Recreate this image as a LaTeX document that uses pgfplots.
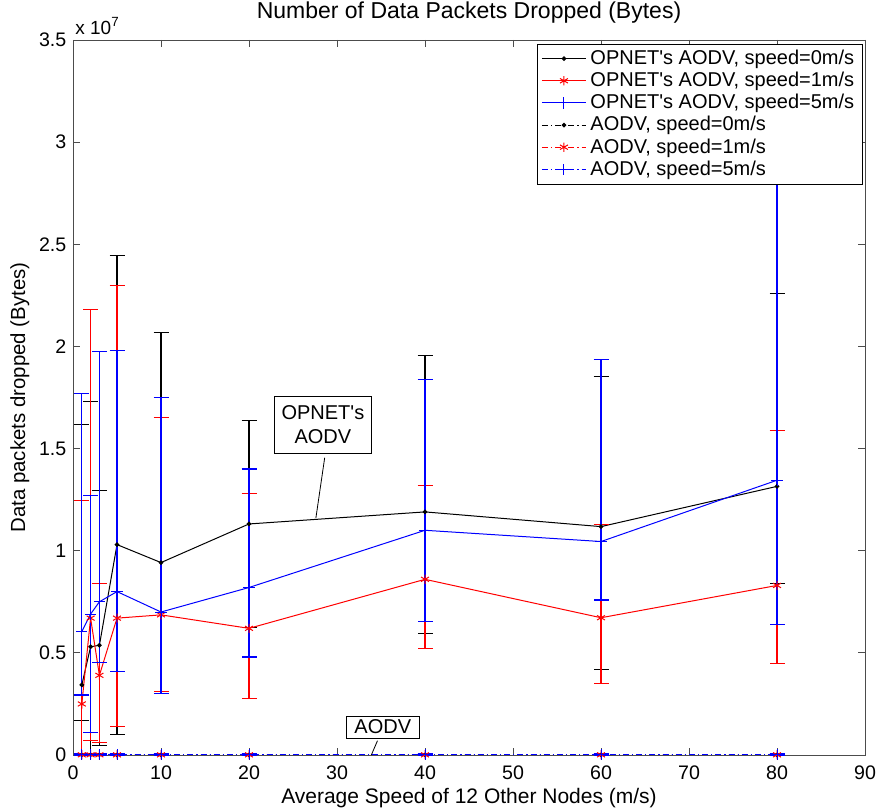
\documentclass[border=0pt]{standalone}
\usepackage{fontspec}
\setmainfont{Liberation Sans}
\usepackage{pgfplots}
\pgfplotsset{compat=1.18}

\definecolor{mred}{rgb}{1,0,0}
\definecolor{mblue}{rgb}{0,0,1}
\newcommand{\q}{\textquotesingle}

\pgfplotsset{
  eb/.style={
    error bars/y dir=both,
    error bars/y explicit,
    error bars/error bar style={draw=#1, color=#1, line width=0.55pt, solid},
    error bars/error mark options={draw=#1, color=#1, rotate=90, mark size=3.75pt, line width=0.55pt, solid},
  },
}

\begin{document}
\fontsize{9.5}{11.4}\selectfont
\begin{tikzpicture}
\begin{axis}[
  name=ax,
  scale only axis,
  width=396pt, height=357.5pt,
  xmin=0, xmax=90, ymin=0, ymax=3.5,
  xtick={0,10,20,30,40,50,60,70,80,90},
  ytick={0,0.5,1,1.5,2,2.5,3,3.5},
  yticklabels={0,0.5,1,1.5,2,2.5,3,3.5},
  tick align=inside, tick pos=both,
  major tick length=3.5pt,
  axis line style={black!70},
  every tick/.style={black!70},
  clip=false,
  /pgf/number format/assume math mode=true,
  ticklabel style={font=\fontsize{9.8}{11}\selectfont},
  xticklabel style={yshift=-2pt},
  every axis title shift=0pt,
  title={Number of Data Packets Dropped (Bytes)},
  title style={at={(axis description cs:0.5,1.038)}, anchor=center,
    font=\fontsize{11.5}{13}\selectfont},
  xlabel={Average Speed of 12 Other Nodes (m/s)},
  xlabel style={at={(axis description cs:0.5,-0.060)}, anchor=center,
    font=\fontsize{10.5}{12}\selectfont},
  ylabel={Data packets dropped (Bytes)},
  ylabel style={at={(axis description cs:-0.067,0.5)}, anchor=center,
    font=\fontsize{10.2}{12}\selectfont},
  legend style={at={(rel axis cs:0.997,0.995)}, anchor=north east,
    draw=black, fill=white, font=\fontsize{10}{11.5}\selectfont,
    row sep=-1.6pt, inner xsep=2pt, inner ysep=1pt},
  legend cell align=left,
  legend image code/.code={\draw[mark repeat=2,mark phase=2]
    plot coordinates {(0pt,0pt) (11pt,0pt) (22pt,0pt)};},
]
% OPNET's AODV, speed=0
\addplot[black, line width=0.5pt, mark=*, mark size=0.9pt, eb=black] coordinates {
  (1,0.343) += (0,1.277) -= (0,0.175)
  (2,0.530) += (0,1.200) -= (0,0.530)
  (3,0.537) += (0,0.758) -= (0,0.491)
  (5,1.030) += (0,1.415) -= (0,0.930)
  (10,0.942) += (0,1.128) -= (0,0.642)
  (20,1.131) += (0,0.505) -= (0,0.505)
  (40,1.190) += (0,0.765) -= (0,0.595)
  (60,1.118) += (0,0.735) -= (0,0.698)
  (80,1.315) += (0,0.945) -= (0,0.475)
};
\addlegendentry{OPNET\q s AODV, speed=0m/s}
% OPNET's AODV, speed=1
\addplot[mred, line width=0.5pt, mark=asterisk, mark size=2.3pt, eb=mred] coordinates {
  (1,0.250) += (0,0.995) -= (0,0.250)
  (2,0.670) += (0,1.510) -= (0,0.597)
  (3,0.390) += (0,0.450) -= (0,0.330)
  (5,0.670) += (0,1.627) -= (0,0.531)
  (10,0.686) += (0,0.964) -= (0,0.376)
  (20,0.620) += (0,0.658) -= (0,0.344)
  (40,0.860) += (0,0.460) -= (0,0.340)
  (60,0.672) += (0,0.458) -= (0,0.322)
  (80,0.830) += (0,0.760) -= (0,0.380)
};
\addlegendentry{OPNET\q s AODV, speed=1m/s}
% OPNET's AODV, speed=5
\addplot[mblue, line width=0.5pt, mark=+, mark size=2.8pt, eb=mblue] coordinates {
  (1,0.604) += (0,1.166) -= (0,0.310)
  (2,0.690) += (0,0.580) -= (0,0.580)
  (3,0.750) += (0,1.225) -= (0,0.296)
  (5,0.800) += (0,1.180) -= (0,0.390)
  (10,0.700) += (0,1.050) -= (0,0.400)
  (20,0.820) += (0,0.580) -= (0,0.340)
  (40,1.100) += (0,0.740) -= (0,0.445)
  (60,1.045) += (0,0.889) -= (0,0.286)
  (80,1.345) += (0,1.555) -= (0,0.705)
};
\addlegendentry{OPNET\q s AODV, speed=5m/s}
% AODV, speed=0
\addplot[black, line width=0.5pt, dash pattern=on 3pt off 1.5pt on 0.6pt off 1.5pt,
  mark=*, mark size=0.9pt, mark options={solid}, eb=black] coordinates {
  (1,0.001) +- (0,0.003) (2,0.001) +- (0,0.003) (3,0.001) +- (0,0.003)
  (5,0.001) +- (0,0.003) (10,0.001) +- (0,0.003) (20,0.001) +- (0,0.003)
  (40,0.001) +- (0,0.003) (60,0.001) +- (0,0.003) (80,0.001) +- (0,0.003)
};
\addlegendentry{AODV, speed=0m/s}
% AODV, speed=1
\addplot[mred, line width=0.5pt, dash pattern=on 3pt off 1.5pt on 0.6pt off 1.5pt,
  mark=asterisk, mark size=2.3pt, mark options={solid}, eb=mred] coordinates {
  (1,0.001) +- (0,0.004) (2,0.001) +- (0,0.004) (3,0.001) +- (0,0.004)
  (5,0.001) +- (0,0.004) (10,0.001) +- (0,0.004) (20,0.001) +- (0,0.004)
  (40,0.001) +- (0,0.004) (60,0.001) +- (0,0.004) (80,0.001) +- (0,0.004)
};
\addlegendentry{AODV, speed=1m/s}
% AODV, speed=5
\addplot[mblue, line width=0.5pt, dash pattern=on 3pt off 1.5pt on 0.6pt off 1.5pt,
  mark=+, mark size=2.8pt, mark options={solid}, eb=mblue] coordinates {
  (1,0.001) +- (0,0.004) (2,0.001) +- (0,0.004) (3,0.001) +- (0,0.004)
  (5,0.001) +- (0,0.004) (10,0.001) +- (0,0.004) (20,0.001) +- (0,0.004)
  (40,0.001) +- (0,0.004) (60,0.001) +- (0,0.004) (80,0.001) +- (0,0.004)
};
\addlegendentry{AODV, speed=5m/s}

% annotations
\draw[black, line width=0.4pt] (axis cs:28.6,1.455) -- (axis cs:27.6,1.16);
\node[draw=black, fill=white, align=center, inner xsep=3.5pt, inner ysep=4.5pt,
  line width=0.4pt, font=\fontsize{10}{12}\selectfont] at (axis cs:28.4,1.616) {OPNET\q s\\AODV};
\draw[black, line width=0.4pt] (axis cs:34.6,0.07) -- (axis cs:33.9,0.0);
\node[draw=black, fill=white, inner xsep=4pt, inner ysep=2pt, line width=0.4pt,
  font=\fontsize{10}{12}\selectfont] at (axis cs:35.2,0.137) {AODV};
\node[anchor=south west, inner sep=0pt] at ([xshift=1pt,yshift=2.5pt]rel axis cs:0,1)
  {x 10\textsuperscript{7}};
\end{axis}
\pgfresetboundingbox
\path (ax.south west) ++(-36.5pt,-28pt) coordinate (bl);
\path (ax.north east) ++(7.5pt,20pt) coordinate (tr);
\useasboundingbox (bl) rectangle (tr);
\end{tikzpicture}
\end{document}
